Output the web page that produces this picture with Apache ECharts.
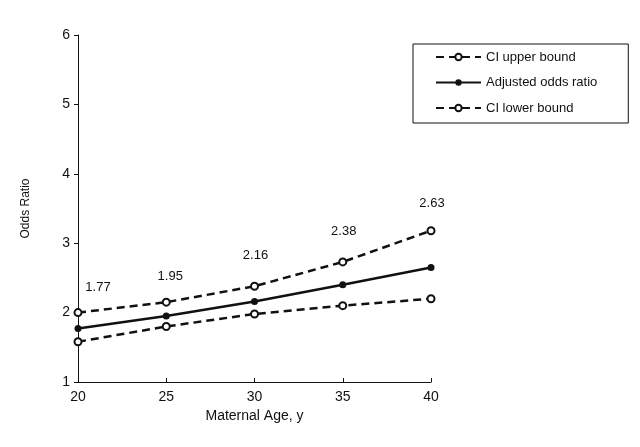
<!DOCTYPE html>
<html>
<head>
<meta charset="utf-8">
<script src="https://cdn.jsdelivr.net/npm/echarts@6/dist/echarts.min.js"></script>
<style>html,body{margin:0;padding:0;background:#fff;}#c{width:640px;height:447px;}</style>
</head>
<body>
<div id="c"></div>
<script>
var ages = [20, 25, 30, 35, 40];
var ciUpper = [2.00, 2.15, 2.38, 2.73, 3.18];
var adjustedOR = [1.77, 1.95, 2.16, 2.40, 2.65];
var ciLower = [1.58, 1.80, 1.98, 2.10, 2.20];
var orLabels = ['1.77', '1.95', '2.16', '2.38', '2.63'];
var seriesNames = ['CI upper bound', 'Adjusted odds ratio', 'CI lower bound'];

function pairs(ys) { return ages.map(function (a, i) { return [a, ys[i]]; }); }

var font = 'Liberation Sans, Arial, sans-serif';
var chart = echarts.init(document.getElementById('c'), null, { renderer: 'canvas' });

var upperData = pairs(ciUpper).map(function (p, i) {
  return {
    value: p,
    label: {
      show: true,
      formatter: orLabels[i],
      position: 'top',
      distance: 4,
      offset: [i === 0 ? 20 : (i === 1 ? 4 : 1), i === 0 ? -10 : (i === 1 ? -11 : (i === 4 ? -12 : -16))],
      fontSize: 13,
      fontFamily: font,
      color: '#111'
    }
  };
});

chart.setOption({
  backgroundColor: '#fff',
  animation: false,
  grid: { left: 78, right: 209, top: 35, bottom: 65 },
  legend: {
    orient: 'vertical',
    left: 413, top: 44,
    padding: [6.5, 31, 8.5, 22],
    itemWidth: 45, itemHeight: 8, itemGap: 12.5,
    borderColor: '#111', borderWidth: 1,
    textStyle: { fontSize: 13, fontFamily: font, color: '#111' },
    data: seriesNames
  },
  xAxis: {
    type: 'value', min: 20, max: 40, interval: 5,
    name: 'Maternal Age, y', nameLocation: 'middle', nameGap: 23,
    nameTextStyle: { fontSize: 14, fontFamily: font, color: '#111' },
    axisLine: { lineStyle: { color: '#111', width: 1 } },
    axisTick: { inside: true, length: 4, lineStyle: { color: '#111' } },
    axisLabel: { fontSize: 14, fontFamily: font, color: '#111', margin: 8 },
    splitLine: { show: false }
  },
  yAxis: {
    type: 'value', min: 1, max: 6, interval: 1,
    name: 'Odds Ratio', nameLocation: 'middle', nameGap: 46,
    nameTextStyle: { fontSize: 12, fontFamily: font, color: '#111' },
    axisLine: { show: true, lineStyle: { color: '#111', width: 1 } },
    axisTick: { show: true, length: 4, lineStyle: { color: '#111' } },
    axisLabel: { fontSize: 14, fontFamily: font, color: '#111', margin: 8 },
    splitLine: { show: false }
  },
  series: [
    {
      name: seriesNames[0], type: 'line', data: upperData,
      symbol: 'emptyCircle', symbolSize: 7,
      lineStyle: { color: '#111', width: 2.5, type: [8, 5] },
      itemStyle: { color: '#111', borderWidth: 1.5, borderColor: '#111' }
    },
    {
      name: seriesNames[1], type: 'line', data: pairs(adjustedOR),
      symbol: 'circle', symbolSize: 7,
      lineStyle: { color: '#111', width: 2.5 },
      itemStyle: { color: '#111' }
    },
    {
      name: seriesNames[2], type: 'line', data: pairs(ciLower),
      symbol: 'emptyCircle', symbolSize: 7,
      lineStyle: { color: '#111', width: 2.5, type: [8, 5] },
      itemStyle: { color: '#111', borderWidth: 1.5, borderColor: '#111' }
    }
  ]
});
</script>
</body>
</html>
